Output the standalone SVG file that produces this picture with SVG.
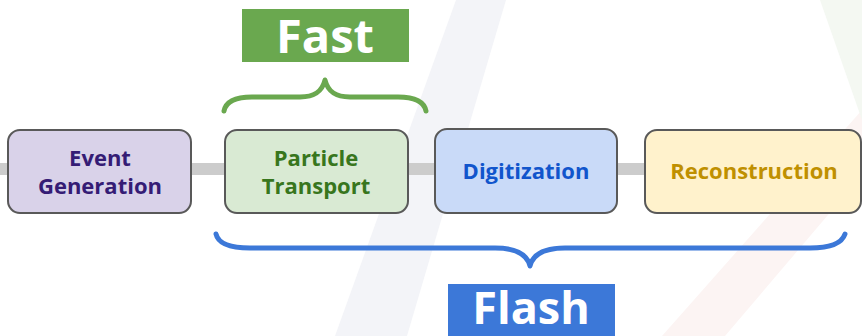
<svg xmlns="http://www.w3.org/2000/svg" width="862" height="336" viewBox="0 0 862 336">
<style>
.box{stroke:#595959;stroke-width:2}
.lbl{font-family:"Open Sans","Liberation Sans",sans-serif;font-weight:700;font-size:22px;text-anchor:middle}
.big{font-family:"Open Sans","Liberation Sans",sans-serif;font-weight:700;fill:#fff;text-anchor:middle}
.brace{fill:none;stroke-width:5;stroke-linecap:round;stroke-linejoin:round}
</style>
<rect width="862" height="336" fill="#ffffff"/>
<g id="background">
<polygon points="456,0 506,0 407,336 335,336" fill="#f3f4f8"/>
<polygon points="662,336 725,336 862,175 862,110" fill="#fcf4f3"/>
<polygon points="820,0 862,0 862,120" fill="#f4f8f2"/>
</g>
<g id="connectors">
<rect x="0" y="163" width="650" height="12" fill="#cccccc"/>
</g>
<g id="event-generation">
<rect class="box" x="8" y="130" width="183" height="83" rx="12" fill="#d9d2e9"/>
<text class="lbl" x="100" y="166" fill="#351c75">Event</text>
<text class="lbl" x="100" y="194" fill="#351c75">Generation</text>
</g>
<g id="particle-transport">
<rect class="box" x="225" y="130" width="183" height="83" rx="12" fill="#d9ead3"/>
<text class="lbl" x="316" y="166" fill="#38761d">Particle</text>
<text class="lbl" x="316" y="194" fill="#38761d">Transport</text>
</g>
<g id="digitization">
<rect class="box" x="435" y="129" width="182" height="84" rx="12" fill="#c9daf8"/>
<text class="lbl" x="526" y="179" fill="#1155cc">Digitization</text>
</g>
<g id="reconstruction">
<rect class="box" x="645" y="130" width="216" height="83" rx="12" fill="#fff2cc"/>
<text class="lbl" x="754" y="179" fill="#bf9000">Reconstruction</text>
</g>
<g id="fast">
<path class="brace" stroke="#6aa84f" d="M224,111 C226,101 236,97 252,97 L300,97 C314,97 322,92 325,80 C328,92 336,97 350,97 L398,97 C414,97 424,101 426,111"/>
<rect x="242" y="9" width="167" height="53" fill="#6aa84f"/>
<text class="big" x="325" y="53" font-size="47">Fast</text>
</g>
<g id="flash">
<path class="brace" stroke="#3c78d8" d="M216,234 C218,243 228,248 250,248 L495,248 C515,248 527,254 530,266 C533,254 545,248 565,248 L810,248 C832,248 842,243 845,234"/>
<rect x="448" y="284" width="167" height="52" fill="#3c78d8"/>
<text class="big" x="531" y="324" font-size="45">Flash</text>
</g>
</svg>
